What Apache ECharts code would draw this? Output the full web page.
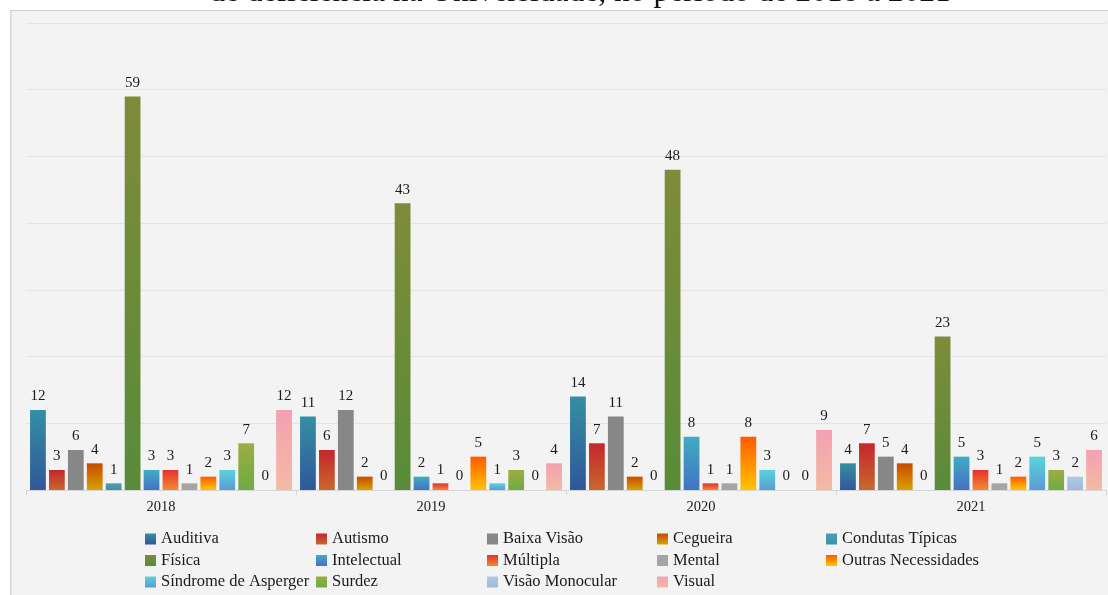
<!DOCTYPE html>
<html>
<head>
<meta charset="utf-8">
<script src="https://cdn.jsdelivr.net/npm/echarts@6/dist/echarts.min.js"></script>
<style>
html,body{margin:0;padding:0;background:#fff;}
#c{width:1108px;height:595px;}
</style>
</head>
<body>
<div id="c"></div>
<script>
const categories = ['2018', '2019', '2020', '2021'];
const seriesNames = ['Auditiva', 'Autismo', 'Baixa Visão', 'Cegueira', 'Condutas Típicas', 'Física', 'Intelectual', 'Múltipla', 'Mental', 'Outras Necessidades', 'Síndrome de Asperger', 'Surdez', 'Visão Monocular', 'Visual'];
const auditiva = [12, 11, 14, 4];
const autismo = [3, 6, 7, 7];
const baixaVisao = [6, 12, 11, 5];
const cegueira = [4, 2, 2, 4];
const condutasTipicas = [1, 0, 0, 0];
const fisica = [59, 43, 48, 23];
const intelectual = [3, 2, 8, 5];
const multipla = [3, 1, 1, 3];
const mental = [1, 0, 1, 1];
const outrasNecessidades = [2, 5, 8, 2];
const sindromeAsperger = [3, 1, 3, 5];
const surdez = [7, 3, 0, 3];
const visaoMonocular = [0, 0, 0, 2];
const visual = [12, 4, 9, 6];
const yTicks = [0, 10, 20, 30, 40, 50, 60, 70];

const values = [auditiva, autismo, baixaVisao, cegueira, condutasTipicas, fisica, intelectual, multipla, mental, outrasNecessidades, sindromeAsperger, surdez, visaoMonocular, visual];
const gradients = [
  ['#358fa2', '#2f579a'],
  ['#c4262e', '#c8682c'],
  ['#878787', '#878787'],
  ['#c94a00', '#d6a200'],
  ['#4aa0b4', '#3f8fa8'],
  ['#7f8b3a', '#588b39'],
  ['#40acc2', '#4472c4'],
  ['#e8302c', '#f08a34'],
  ['#a5a5a5', '#a5a5a5'],
  ['#ff5a00', '#ffc400'],
  ['#58d4da', '#5b9bd5'],
  ['#9cad42', '#6fab45'],
  ['#adcbe2', '#a3b6de'],
  ['#f4a0b2', '#f4baa2']
];

const serif = '"Liberation Serif", "DejaVu Serif", serif';

function grad(c) {
  return new echarts.graphic.LinearGradient(0, 0, 0, 1, [{offset: 0, color: c[0]}, {offset: 1, color: c[1]}]);
}

const series = seriesNames.map((n, i) => ({
  name: n,
  type: 'bar',
  data: values[i],
  barGap: '20%',
  barCategoryGap: '3%',
  itemStyle: {color: grad(gradients[i])},
  label: {show: true, position: 'top', distance: 6, color: '#1a1a1a', fontFamily: serif, fontSize: 15}
}));

const legendCols = [
  ['Auditiva', 'Física', 'Síndrome de Asperger'],
  ['Autismo', 'Intelectual', 'Surdez'],
  ['Baixa Visão', 'Múltipla', 'Visão Monocular'],
  ['Cegueira', 'Mental', 'Visual'],
  ['Condutas Típicas', 'Outras Necessidades']
];
const legendLeft = [145, 316, 487, 657, 826];
const legends = legendCols.map((d, i) => ({
  data: d,
  orient: 'vertical',
  left: legendLeft[i],
  top: 530,
  height: 120,
  padding: 0,
  itemWidth: 11,
  itemHeight: 11,
  itemGap: 3.5,
  selectedMode: false,
  icon: 'rect',
  textStyle: {fontFamily: serif, fontSize: 16.5, color: '#1a1a1a', lineHeight: 18}
}));

const chart = echarts.init(document.getElementById('c'), null, {renderer: 'canvas'});
chart.setOption({
  backgroundColor: '#ffffff',
  animation: false,
  graphic: [
    {type: 'text', z: -3, x: 580, y: -23, style: {text: 'de deficiência na Universidade, no período de 2018 a 2021', font: '31.5px "Liberation Serif"', fill: '#111', align: 'center'}},
    {type: 'rect', z: -2, shape: {x: 10.5, y: 10.5, width: 1110, height: 600}, style: {fill: '#f3f3f3', stroke: '#cccccc', lineWidth: 1}},
    {type: 'rect', z: -2, shape: {x: 10, y: 11, width: 1.5, height: 600}, style: {fill: '#d6d6d6'}}
  ],
  legend: legends,
  grid: {left: 26, right: 2, top: 23, bottom: 105, containLabel: false},
  xAxis: {
    type: 'category',
    data: categories,
    axisLine: {lineStyle: {color: '#d6d6d6'}},
    axisTick: {show: true, length: 5, lineStyle: {color: '#d6d6d6'}},
    axisLabel: {color: '#1a1a1a', fontFamily: serif, fontSize: 14.5, margin: 10}
  },
  yAxis: {
    type: 'value',
    min: yTicks[0],
    max: yTicks[yTicks.length - 1],
    interval: 10,
    axisLabel: {show: false},
    axisLine: {show: false},
    axisTick: {show: false},
    splitLine: {lineStyle: {color: '#e4e4e4'}}
  },
  series: series
});
</script>
</body>
</html>
